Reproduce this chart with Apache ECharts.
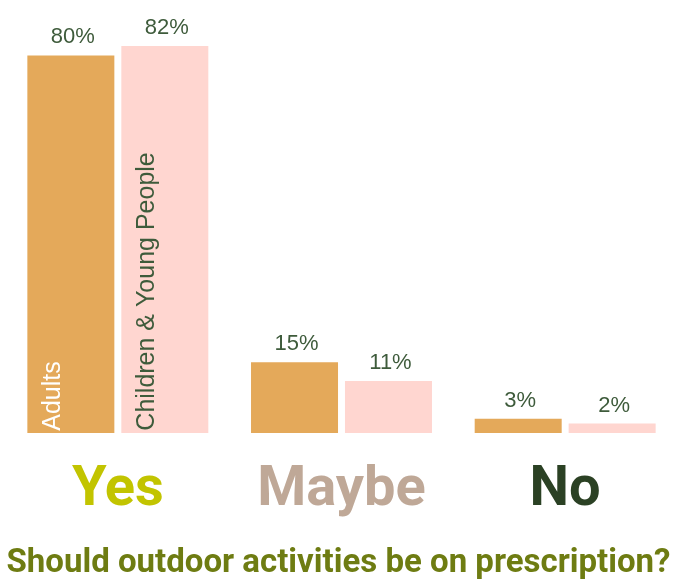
<!DOCTYPE html>
<html>
<head>
<meta charset="utf-8">
<script src="https://cdn.jsdelivr.net/npm/echarts@6/dist/echarts.min.js"></script>
<style>
  html, body { margin: 0; padding: 0; background: #ffffff; }
  #chart { width: 677px; height: 579px; }
</style>
</head>
<body>
<div id="chart"></div>
<script>
// Survey answers, percentage of respondents per group
const categories = ['Yes', 'Maybe', 'No'];
const adults = [80, 15, 3];
const childrenYoungPeople = [82, 11, 2];
const groupNames = ['Adults', 'Children & Young People'];
const answerColors = ['#C2C400', '#BFA897', '#2B4124'];
const questionText = 'Should outdoor activities be on prescription?';

const barColors = ['#E4A95A', '#FFD6D0'];
const valueTextColor = '#3E5B3B';
const groupLabelColors = ['#ffffff', '#3E5B3B'];
const bodyFont = "'Liberation Sans', Arial, sans-serif";
const headFont = "Roboto, 'Liberation Sans', sans-serif";

const chart = echarts.init(document.getElementById('chart'), null, { renderer: 'canvas' });

const richAnswers = {};
categories.forEach((c, i) => {
  richAnswers['a' + i] = {
    color: answerColors[i],
    fontSize: 56,
    fontWeight: 'bold',
    fontFamily: headFont
  };
});

const barWidth = 87;
const barGap = '8%';

// Visible bars with value labels on top
function valueSeries(name, values, color) {
  return {
    type: 'bar',
    name: name,
    xAxisIndex: 0,
    data: values,
    barWidth: barWidth,
    barGap: barGap,
    itemStyle: { color: color },
    label: {
      show: true,
      position: 'top',
      distance: 7,
      offset: [2, 0],
      formatter: '{c}%',
      color: valueTextColor,
      fontSize: 22,
      fontFamily: bodyFont
    },
    silent: true
  };
}

// Transparent twins that carry the group names inside the first bar pair
function nameSeries(name, values, color) {
  return {
    type: 'bar',
    name: name + ' label',
    xAxisIndex: 1,
    data: values,
    barWidth: barWidth,
    barGap: barGap,
    itemStyle: { color: 'rgba(0,0,0,0)' },
    label: {
      show: true,
      position: [26, '99.4%'],
      rotate: 90,
      align: 'left',
      verticalAlign: 'middle',
      formatter: p => (p.dataIndex === 0 ? name : ''),
      color: color,
      fontSize: 25,
      fontFamily: bodyFont
    },
    silent: true
  };
}

chart.setOption({
  animation: false,
  backgroundColor: '#ffffff',
  title: {
    text: questionText,
    left: 'center',
    top: 542,
    textStyle: {
      color: '#6E7C12',
      fontSize: 33,
      fontWeight: 'bold',
      fontFamily: headFont
    }
  },
  grid: { left: 6, right: 0, top: 20, bottom: 146 },
  xAxis: [
    {
      type: 'category',
      data: categories,
      axisLine: { show: false },
      axisTick: { show: false },
      splitLine: { show: false },
      axisLabel: {
        margin: 30,
        formatter: (v, i) => '{a' + i + '|' + v + '}',
        rich: richAnswers
      }
    },
    {
      type: 'category',
      data: categories,
      show: false
    }
  ],
  yAxis: {
    type: 'value',
    min: 0,
    max: 87.5,
    show: false,
    splitLine: { show: false }
  },
  series: [
    valueSeries(groupNames[0], adults, barColors[0]),
    valueSeries(groupNames[1], childrenYoungPeople, barColors[1]),
    nameSeries(groupNames[0], adults, groupLabelColors[0]),
    nameSeries(groupNames[1], childrenYoungPeople, groupLabelColors[1])
  ]
});
</script>
</body>
</html>
